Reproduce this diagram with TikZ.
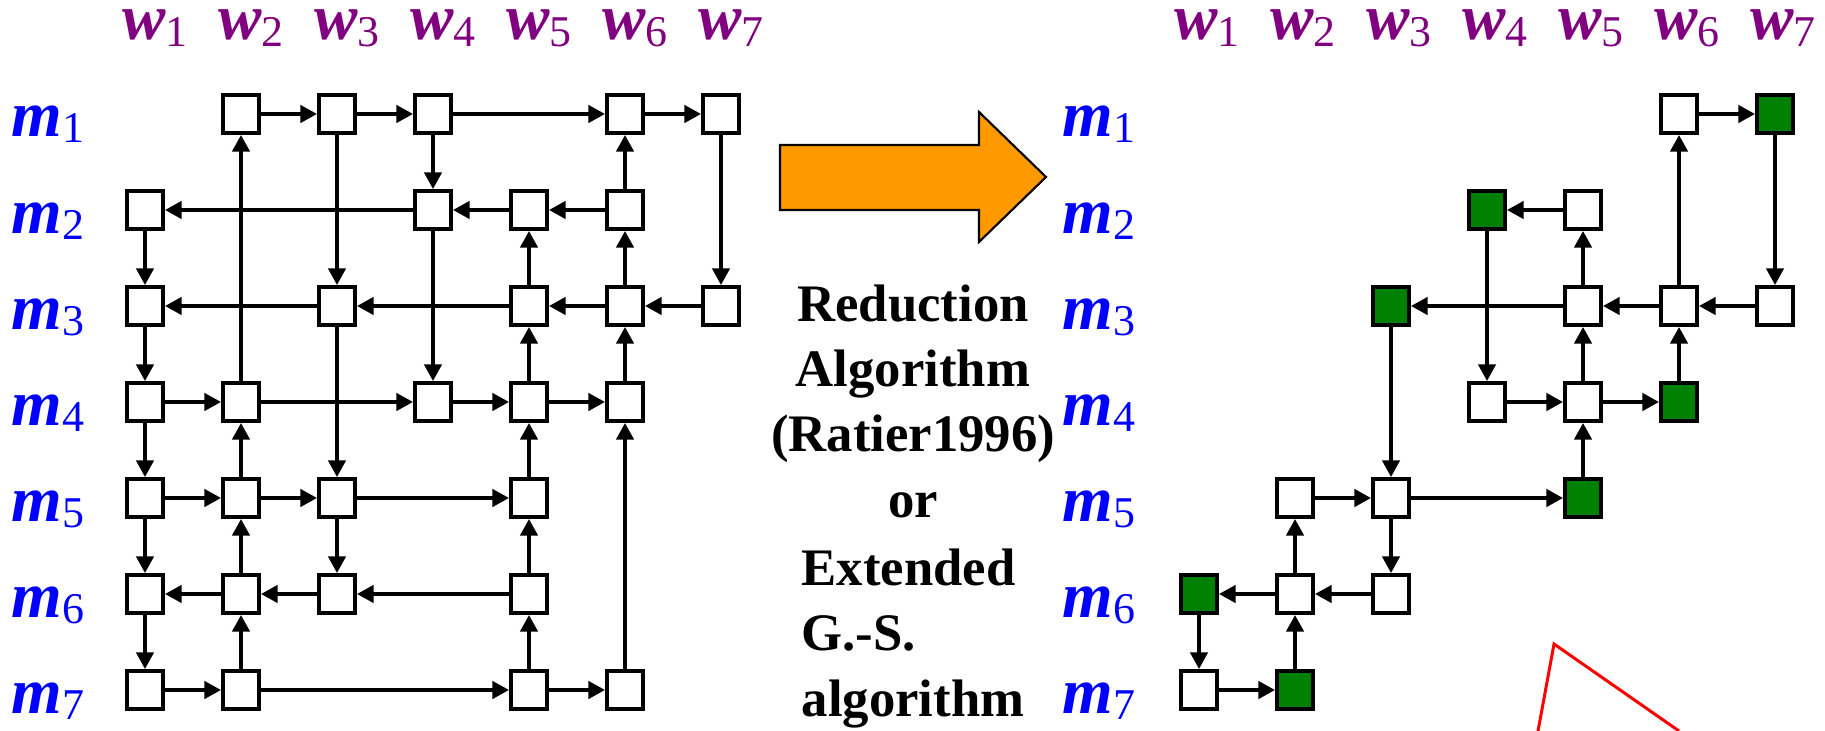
\documentclass[tikz,border=0pt]{standalone}
\usepackage{fontspec}
\setmainfont{Liberation Serif}
\usetikzlibrary{arrows.meta}

\definecolor{mblue}{RGB}{0,0,255}
\definecolor{wpurple}{RGB}{128,0,128}
\definecolor{stablegreen}{RGB}{0,128,0}
\definecolor{arroworange}{RGB}{255,153,0}

\newcommand{\mlab}[1]{{\fontsize{18.5}{18.5}\selectfont\bfseries\itshape m}\raisebox{-0.06cm}{\fontsize{12.5}{12.5}\selectfont #1}}
\newcommand{\wlab}[1]{{\fontsize{18.5}{18.5}\selectfont\bfseries\itshape w}\raisebox{-0.07cm}{\fontsize{12.5}{12.5}\selectfont #1}}

\tikzset{
  pair/.style={draw,line width=1.15pt,minimum width=0.36cm,minimum height=0.38cm,inner sep=0pt,fill=white},
  stable/.style={pair,fill=stablegreen},
  mlabel/.style={text=mblue,anchor=base,inner sep=0pt,text height=0.32cm},
  wlabel/.style={text=wpurple,anchor=base,inner sep=0pt,text height=0.32cm},
  edge/.style={line width=0.95pt,->},
  algtext/.style={inner sep=0pt,font=\fontsize{15}{18.5}\selectfont\bfseries},
}

\begin{document}
\begin{tikzpicture}[>={Triangle[length=4.7pt,width=4.9pt]}]
	\useasboundingbox (0,0) rectangle (18.25,-7.31);

	% labels
	\foreach \i in {1,...,7} {
		\node[mlabel] (mL\i) at (0.48,{-0.41-0.96*\i}) {\mlab{\i}};
		\node[mlabel] (mR\i) at (10.99,{-0.41-0.96*\i}) {\mlab{\i}};
		\node[wlabel] (wL\i) at ({0.59+0.96*\i},-0.40) {\wlab{\i}};
		\node[wlabel] (wR\i) at ({11.11+0.96*\i},-0.40) {\wlab{\i}};
	}

	% left: all the pairs
	\foreach \r/\c in {1/2,1/3,1/4,1/6,1/7,2/1,2/4,2/5,2/6,3/1,3/3,3/5,3/6,3/7,
		4/1,4/2,4/4,4/5,4/6,5/1,5/2,5/3,5/5,6/1,6/2,6/3,6/5,7/1,7/2,7/5,7/6}
		\node[pair] (L\r\c) at ({0.49+0.96*\c},{-0.18-0.96*\r}) {};

	\foreach \a/\b in {L12/L13,L13/L14,L14/L16,L16/L17,L41/L42,L42/L44,L44/L45,L45/L46,
		L51/L52,L52/L53,L53/L55,L71/L72,L72/L75,L75/L76,
		L26/L25,L25/L24,L24/L21,L37/L36,L36/L35,L35/L33,L33/L31,L65/L63,L63/L62,L62/L61,
		L13/L33,L14/L24,L17/L37,L21/L31,L24/L44,L31/L41,L33/L53,L41/L51,L51/L61,L53/L63,L61/L71,
		L42/L12,L26/L16,L35/L25,L36/L26,L45/L35,L46/L36,L52/L42,L55/L45,L76/L46,L62/L52,
		L65/L55,L72/L62,L75/L65}
		\draw[edge] (\a) -- (\b);

	% big arrow
	\draw[fill=arroworange,line width=0.6pt] (7.80,-1.45) -- (9.79,-1.45) -- (9.79,-1.12)
		-- (10.46,-1.77) -- (9.79,-2.42) -- (9.79,-2.10) -- (7.80,-2.10) -- cycle;

	\node[algtext,align=center,anchor=base] (reduction) at (9.13,-5.17)
		{Reduction\\Algorithm\\(Ratier1996)\\or};
	\node[algtext,align=left,anchor=base west] (extended) at (8.01,-7.16)
		{Extended\\G.-S.\\algorithm};

	% right: after reduction
	\foreach \r/\c in {1/6,2/5,3/5,3/6,3/7,4/4,4/5,5/2,5/3,6/2,6/3,7/1}
		\node[pair] (R\r\c) at ({11.03+0.96*\c},{-0.18-0.96*\r}) {};
	\foreach \r/\c in {1/7,2/4,3/3,4/6,5/5,6/1,7/2}
		\node[stable] (R\r\c) at ({11.03+0.96*\c},{-0.18-0.96*\r}) {};

	\foreach \a/\b in {R16/R17,R17/R37,R37/R36,R36/R35,R35/R33,R36/R16,R35/R25,R25/R24,
		R24/R44,R44/R45,R45/R46,R45/R35,R46/R36,R55/R45,R33/R53,R52/R53,R53/R55,R53/R63,
		R63/R62,R62/R61,R62/R52,R61/R71,R71/R72,R72/R62}
		\draw[edge] (\a) -- (\b);

	\draw[red,line width=0.85pt] (15.38,-7.31) -- (15.54,-6.44) -- (16.79,-7.31);
\end{tikzpicture}
\end{document}
